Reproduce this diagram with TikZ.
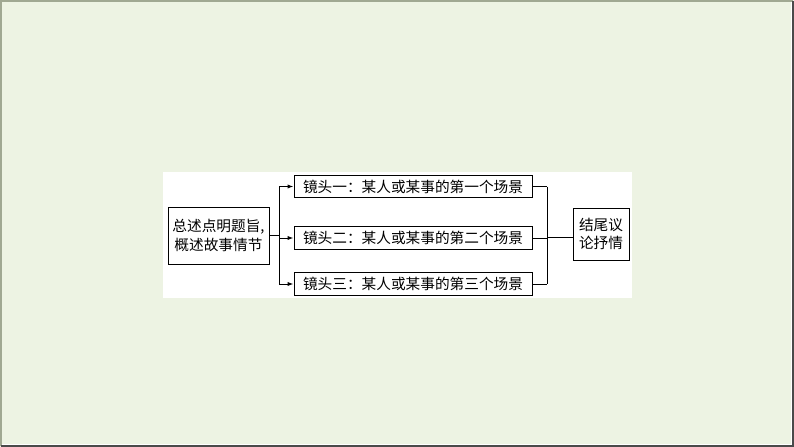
\documentclass[tikz,border=0pt]{standalone}
\usepackage{fontspec}
\newfontfamily\cjk{Noto Sans CJK SC}
\usetikzlibrary{arrows.meta}
\definecolor{slidebg}{RGB}{237,243,227}
\definecolor{framegrey}{RGB}{160,168,146}
\definecolor{framedark}{RGB}{74,74,74}
\tikzset{every picture/.style={line width=0.75pt},
  cntext/.style={font=\cjk\fontsize{11}{13.7}\selectfont, inner sep=0pt, align=center},
  sumbox/.style={cntext, draw, minimum width=75.75pt, minimum height=42.75pt},
  shotbox/.style={cntext, draw, minimum width=178.5pt, minimum height=16.9pt},
  closebox/.style={cntext, draw, minimum width=42pt, minimum height=39pt},
  tip/.style={-{Latex[length=4.5pt,width=3.2pt]}}}

\begin{document}
\begin{tikzpicture}[x=0.75pt,y=0.75pt,yscale=-1,xscale=1]
\useasboundingbox (0,0) rectangle (794,447);
%Slide background and frame
\fill [slidebg] (0,0) rectangle (794,447);
\draw [framegrey, line width=1.5pt] (1,446) -- (1,1) -- (793,1);
\draw [white, line width=0.75pt] (2,444) -- (791,444) -- (791,2);
\draw [framedark, line width=1.5pt] (1,446) -- (793,446) -- (793,1);
%White panel
\fill [white] (163,172) rectangle (632,298);
% Text Node
\node [sumbox] (sum) at (218.5,235.5) {总述点明题旨,\\概述故事情节};
% Text Node
\node [shotbox] (shot1) at (413,186.5) {镜头一：某人或某事的第一个场景};
% Text Node
\node [shotbox] (shot2) at (413,238) {镜头二：某人或某事的第二个场景};
% Text Node
\node [shotbox] (shot3) at (413,284) {镜头三：某人或某事的第三个场景};
% Text Node
\node [closebox] (close) at (601,234) {结尾议\\论抒情};
\coordinate (fork) at (279,237);
\coordinate (join) at (547,237);
%Left branch
\draw (sum.east) -- (sum.east -| fork) ;
\draw (fork |- shot1) -- (fork |- shot3) ;
\draw [tip] (fork |- shot1) -- (shot1) ;
\draw [tip] (fork |- shot2) -- (shot2) ;
\draw [tip] (fork |- shot3) -- (shot3) ;
%Right branch
\draw (shot1) -- (shot1 -| join) ;
\draw (shot2) -- (shot2 -| join) ;
\draw (shot3) -- (shot3 -| join) ;
\draw (join |- shot1) -- (join |- shot3) ;
\draw (join) -- (join -| close.west) ;
\end{tikzpicture}
\end{document}
